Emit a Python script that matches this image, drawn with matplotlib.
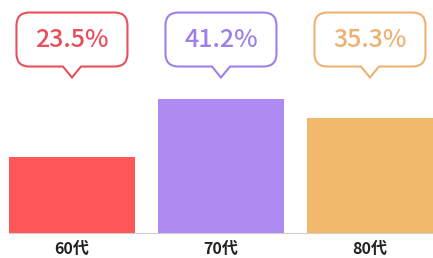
import matplotlib.pyplot as plt
from matplotlib.path import Path
from matplotlib.patches import PathPatch
from matplotlib.transforms import ScaledTranslation

plt.rcParams['font.family'] = ['Noto Sans CJK JP', 'DejaVu Sans']

labels = ['60代', '70代', '80代']
values = [23.5, 41.2, 35.3]
bar_colors = ['#FF5757', '#AD8BF2', '#F1B76B']
text_colors = ['#E5505C', '#9D80EA', '#EDB273']

fig = plt.figure(figsize=(4.33, 2.58), dpi=100)
ax = fig.add_axes([0, 0, 1, 1])
ax.set_xlim(-0.483, 2.423)
ax.set_ylim(-7.6, 71.6)
ax.axis('off')

x = list(range(len(values)))
ax.bar(x, values, width=0.846, color=bar_colors, zorder=2)
ax.axhline(0, xmin=0.02, xmax=1, color='#cfcfcf', lw=0.8, zorder=1)

for i, lab in enumerate(labels):
    ax.text(i, -4.9, lab, ha='center', va='center', fontsize=11.5,
            fontweight='bold', color='#222222')


def bubble_path(w=111, h=54, r=13, tw=9, th=11):
    # speech bubble in pixels, tail tip at origin
    L, R, B, T = -w / 2, w / 2, th, th + h
    verts = [(-tw, B), (0, 0), (tw, B), (R - r, B),
             (R, B), (R, B + r), (R, T - r),
             (R, T), (R - r, T), (L + r, T),
             (L, T), (L, T - r), (L, B + r),
             (L, B), (L + r, B), (-tw, B)]
    codes = [Path.MOVETO, Path.LINETO, Path.LINETO, Path.LINETO,
             Path.CURVE3, Path.CURVE3, Path.LINETO,
             Path.CURVE3, Path.CURVE3, Path.LINETO,
             Path.CURVE3, Path.CURVE3, Path.LINETO,
             Path.CURVE3, Path.CURVE3, Path.CLOSEPOLY]
    verts = [(vx / 100, vy / 100) for vx, vy in verts]
    return Path(verts, codes)


for i, v in enumerate(values):
    tr = fig.dpi_scale_trans + ScaledTranslation(i, 47.8, ax.transData)
    ax.add_patch(PathPatch(bubble_path(), facecolor='white',
                           edgecolor=text_colors[i], lw=1.5,
                           transform=tr, zorder=3))
    ax.annotate(f'{v}%', xy=(i, 47.8), xytext=(0, 38),
                textcoords='offset pixels', ha='center', va='center',
                fontsize=18, fontweight='medium', color=text_colors[i],
                zorder=4)

fig.savefig('out.png', dpi=100)
